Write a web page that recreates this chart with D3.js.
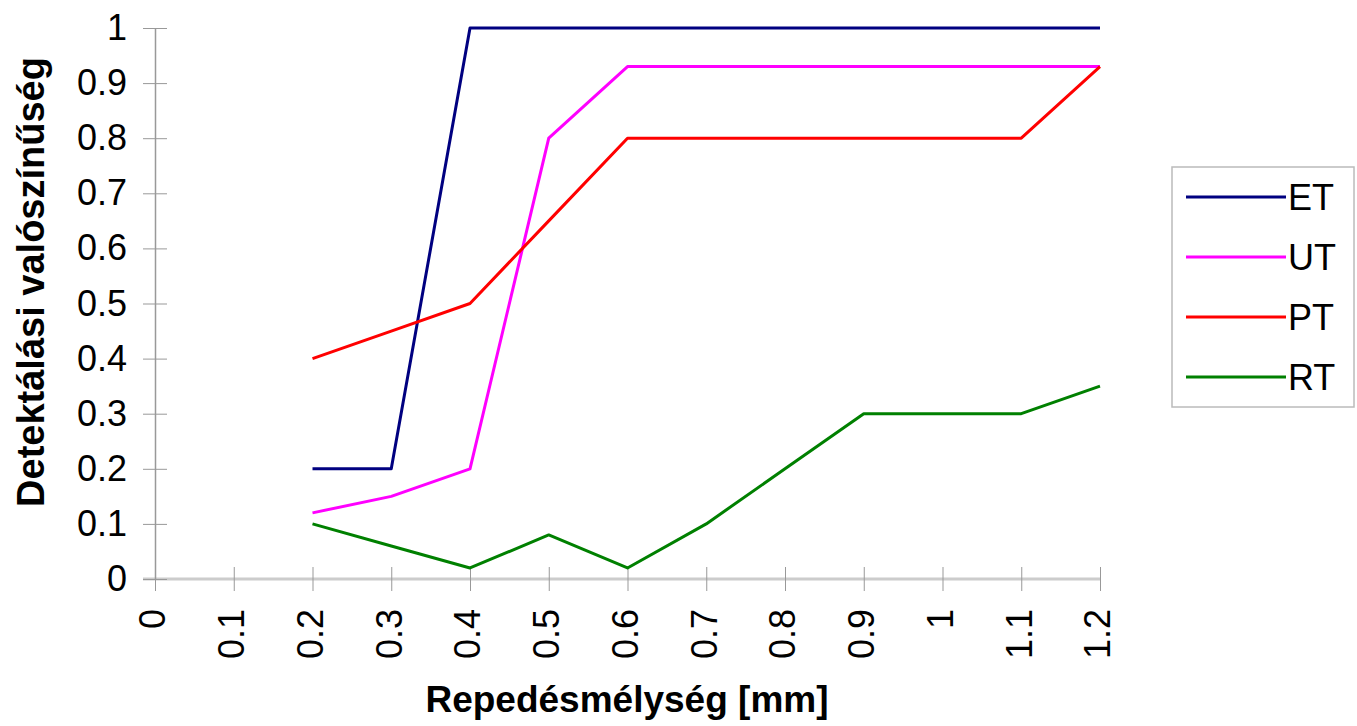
<!DOCTYPE html>
<html>
<head>
<meta charset="utf-8">
<script src="https://cdn.jsdelivr.net/npm/d3@7"></script>
<style>
  body { margin: 0; background: #fff; }
  text { font-family: "Liberation Sans", Arial, sans-serif; }
</style>
</head>
<body>
<svg id="chart" width="1357" height="726"></svg>
<script>
// data
var depths = [0.2, 0.3, 0.4, 0.5, 0.6, 0.7, 0.8, 0.9, 1.0, 1.1, 1.2];
var xTicks = [0, 0.1, 0.2, 0.3, 0.4, 0.5, 0.6, 0.7, 0.8, 0.9, 1, 1.1, 1.2];
var yTicks = [0, 0.1, 0.2, 0.3, 0.4, 0.5, 0.6, 0.7, 0.8, 0.9, 1];
var seriesNames = ['ET', 'UT', 'PT', 'RT'];
var seriesColors = ['#000080', '#ff00ff', '#ff0000', '#008000'];
var etValues = [0.2, 0.2, 1, 1, 1, 1, 1, 1, 1, 1, 1];
var utValues = [0.12, 0.15, 0.2, 0.8, 0.93, 0.93, 0.93, 0.93, 0.93, 0.93, 0.93];
var ptValues = [0.4, 0.45, 0.5, 0.65, 0.8, 0.8, 0.8, 0.8, 0.8, 0.8, 0.93];
var rtValues = [0.1, 0.06, 0.02, 0.08, 0.02, 0.1, 0.2, 0.3, 0.3, 0.3, 0.35];
var allValues = [etValues, utValues, ptValues, rtValues];

var margin = { top: 28, left: 155 },
  width = 1100 - margin.left,
  height = 579 - margin.top;

var svg = d3.select('#chart');
var g = svg.append('g')
  .attr('transform', 'translate(' + margin.left + ',' + margin.top + ')');

var x = d3.scaleLinear().domain([0, 1.2]).range([0, width]);
var y = d3.scaleLinear().domain([0, 1]).range([height, 0]);

// x axis (light grey baseline, drawn first so y axis sits on top)
var xAxis = g.append('g')
  .attr('transform', 'translate(0,' + height + ')')
  .call(d3.axisBottom(x).tickValues(xTicks).tickSize(12).tickSizeOuter(0).tickFormat(d3.format('')));
xAxis.select('.domain')
  .attr('d', 'M-12,0H' + width)
  .attr('stroke', '#ccc').attr('stroke-width', 3);
xAxis.selectAll('.tick line').attr('stroke', '#999').attr('y1', -12).attr('y2', 12);
xAxis.selectAll('.tick text')
  .attr('font-size', 36).attr('fill', '#000')
  .attr('font-family', '"Liberation Sans", Arial, sans-serif')
  .attr('text-anchor', 'end')
  .attr('dy', '0.33em')
  .attr('transform', 'translate(-2,30) rotate(-90)')
  .attr('x', 0).attr('y', 0);

// y axis
var yAxis = g.append('g')
  .call(d3.axisLeft(y).tickValues(yTicks).tickSize(12).tickSizeOuter(0).tickPadding(16).tickFormat(d3.format('')));
yAxis.select('.domain').attr('stroke', '#999').attr('stroke-width', 1.5);
yAxis.selectAll('.tick line').attr('stroke', '#999').attr('x1', -12).attr('x2', 12);
yAxis.selectAll('.tick text')
  .attr('font-size', 36).attr('fill', '#000')
  .attr('font-family', '"Liberation Sans", Arial, sans-serif');

// lines
var line = d3.line()
  .x(function (d, i) { return x(depths[i]); })
  .y(function (d) { return y(d); });

g.selectAll('.series')
  .data(allValues)
  .enter()
  .append('path')
  .attr('class', 'series')
  .attr('d', function (d) { return line(d); })
  .attr('fill', 'none')
  .attr('stroke', function (d, i) { return seriesColors[i]; })
  .attr('stroke-width', 3)
  .attr('stroke-linejoin', 'round');

// axis titles
svg.append('text')
  .attr('x', 627).attr('y', 712)
  .attr('text-anchor', 'middle')
  .attr('font-size', 37).attr('font-weight', 'bold')
  .text('Repedésmélység [mm]');

svg.append('text')
  .attr('transform', 'translate(44,282) rotate(-90)')
  .attr('text-anchor', 'middle')
  .attr('font-size', 38).attr('font-weight', 'bold')
  .text('Detektálási valószínűség');

// legend
var legend = svg.append('g').attr('transform', 'translate(1172,167)');
legend.append('rect')
  .attr('width', 182).attr('height', 240)
  .attr('fill', '#fff').attr('stroke', '#bbb').attr('stroke-width', 1.5);

var item = legend.selectAll('.item')
  .data(seriesNames)
  .enter()
  .append('g')
  .attr('class', 'item')
  .attr('transform', function (d, i) { return 'translate(0,' + (30 + i * 60) + ')'; });

item.append('line')
  .attr('x1', 14).attr('x2', 114)
  .attr('stroke', function (d, i) { return seriesColors[i]; })
  .attr('stroke-width', 3);

item.append('text')
  .attr('x', 116).attr('dy', '0.36em')
  .attr('font-size', 36)
  .text(function (d) { return d; });
</script>
</body>
</html>
